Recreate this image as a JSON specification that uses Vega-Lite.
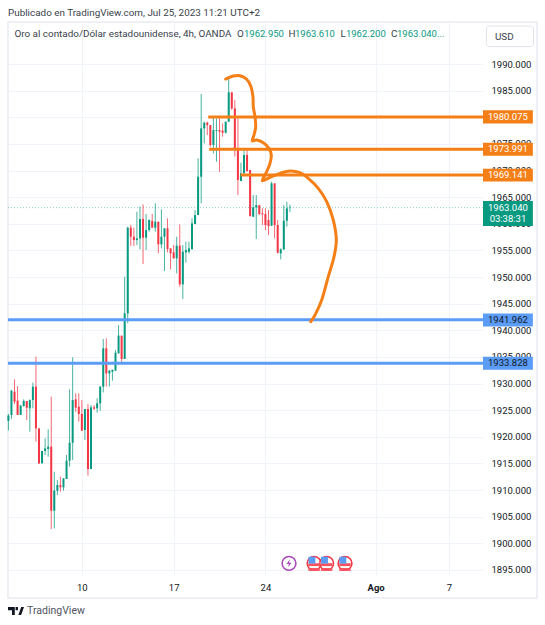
{"$schema":"https://vega.github.io/schema/vega-lite/v6.json","width":475,"height":553,"autosize":{"type":"none"},"padding":{"left":8,"top":22,"right":62,"bottom":50},"background":"#ffffff","view":{"stroke":null},
"config":{"font":"Roboto","text":{"font":"Roboto"}},
"datasets":{
"candles":[{"i":0,"o":1923.0,"h":1924.3,"l":1921.2,"c":1924.0},{"i":1,"o":1924.1,"h":1928.79,"l":1923.35,"c":1928.67},{"i":2,"o":1928.48,"h":1930.79,"l":1926.16,"c":1926.6},{"i":3,"o":1926.79,"h":1929.54,"l":1924.1,"c":1924.1},{"i":4,"o":1924.1,"h":1925.97,"l":1924.1,"c":1925.85},{"i":5,"o":1925.79,"h":1927.04,"l":1925.66,"c":1926.73},{"i":6,"o":1926.73,"h":1926.73,"l":1923.16,"c":1925.47},{"i":7,"o":1925.35,"h":1927.04,"l":1920.97,"c":1926.91},{"i":8,"o":1926.91,"h":1930.17,"l":1925.35,"c":1929.42},{"i":9,"o":1929.42,"h":1935.05,"l":1919.09,"c":1921.59},{"i":10,"o":1921.59,"h":1921.59,"l":1914.9,"c":1915.02},{"i":11,"o":1915.02,"h":1917.34,"l":1915.02,"c":1917.34},{"i":12,"o":1917.34,"h":1919.72,"l":1916.59,"c":1917.84},{"i":13,"o":1917.71,"h":1921.41,"l":1916.27,"c":1918.15},{"i":14,"o":1918.15,"h":1927.54,"l":1902.69,"c":1906.13},{"i":15,"o":1906.13,"h":1913.46,"l":1902.82,"c":1909.89},{"i":16,"o":1909.89,"h":1911.89,"l":1909.08,"c":1910.95},{"i":17,"o":1910.95,"h":1912.52,"l":1909.7,"c":1910.52},{"i":18,"o":1910.52,"h":1912.21,"l":1909.89,"c":1912.21},{"i":19,"o":1912.08,"h":1916.59,"l":1912.08,"c":1915.52},{"i":20,"o":1915.52,"h":1928.92,"l":1914.4,"c":1918.9},{"i":21,"o":1918.9,"h":1934.93,"l":1915.65,"c":1926.91},{"i":22,"o":1927.04,"h":1928.17,"l":1924.72,"c":1925.47},{"i":23,"o":1925.66,"h":1928.17,"l":1922.85,"c":1924.29},{"i":24,"o":1924.29,"h":1926.91,"l":1921.16,"c":1921.16},{"i":25,"o":1921.28,"h":1925.22,"l":1919.4,"c":1925.22},{"i":26,"o":1925.22,"h":1926.16,"l":1912.71,"c":1913.96},{"i":27,"o":1913.96,"h":1925.97,"l":1913.96,"c":1925.54},{"i":28,"o":1925.54,"h":1925.97,"l":1925.04,"c":1925.29},{"i":29,"o":1925.35,"h":1927.23,"l":1924.54,"c":1926.29},{"i":30,"o":1926.29,"h":1929.54,"l":1924.91,"c":1929.42},{"i":31,"o":1929.42,"h":1938.36,"l":1928.35,"c":1936.62},{"i":32,"o":1936.62,"h":1938.49,"l":1929.42,"c":1931.92},{"i":33,"o":1931.92,"h":1932.55,"l":1929.42,"c":1932.42},{"i":34,"o":1932.23,"h":1932.67,"l":1930.54,"c":1932.55},{"i":35,"o":1932.42,"h":1936.3,"l":1932.42,"c":1935.8},{"i":36,"o":1935.67,"h":1940.99,"l":1935.67,"c":1939.0},{"i":37,"o":1938.99,"h":1938.99,"l":1933.79,"c":1934.61},{"i":38,"o":1934.61,"h":1950.07,"l":1934.61,"c":1943.18},{"i":39,"o":1943.18,"h":1959.46,"l":1941.3,"c":1959.27},{"i":40,"o":1959.27,"h":1959.77,"l":1955.83,"c":1957.58},{"i":41,"o":1957.58,"h":1959.27,"l":1955.83,"c":1956.95},{"i":42,"o":1956.95,"h":1962.27,"l":1956.01,"c":1957.26},{"i":43,"o":1957.26,"h":1963.21,"l":1955.2,"c":1960.89},{"i":44,"o":1960.89,"h":1963.65,"l":1952.45,"c":1957.39},{"i":45,"o":1957.39,"h":1961.83,"l":1955.07,"c":1958.83},{"i":46,"o":1958.83,"h":1960.83,"l":1958.52,"c":1960.71},{"i":47,"o":1960.52,"h":1961.83,"l":1959.27,"c":1959.27},{"i":48,"o":1959.27,"h":1963.84,"l":1958.52,"c":1960.39},{"i":49,"o":1960.39,"h":1960.39,"l":1954.45,"c":1956.14},{"i":50,"o":1956.14,"h":1962.71,"l":1955.39,"c":1957.58},{"i":51,"o":1957.58,"h":1959.14,"l":1951.13,"c":1959.14},{"i":52,"o":1959.14,"h":1961.02,"l":1954.64,"c":1955.26},{"i":53,"o":1955.39,"h":1955.39,"l":1951.44,"c":1954.45},{"i":54,"o":1954.64,"h":1956.01,"l":1953.51,"c":1953.51},{"i":55,"o":1953.51,"h":1957.58,"l":1950.69,"c":1955.89},{"i":56,"o":1955.89,"h":1959.89,"l":1948.19,"c":1948.63},{"i":57,"o":1948.63,"h":1956.01,"l":1945.87,"c":1954.76},{"i":58,"o":1954.64,"h":1956.64,"l":1952.7,"c":1955.07},{"i":59,"o":1954.76,"h":1956.64,"l":1954.45,"c":1955.39},{"i":60,"o":1955.26,"h":1961.02,"l":1955.07,"c":1960.08},{"i":61,"o":1959.95,"h":1962.58,"l":1959.95,"c":1961.64},{"i":62,"o":1961.64,"h":1972.28,"l":1961.64,"c":1968.84},{"i":63,"o":1968.84,"h":1984.36,"l":1963.83,"c":1977.92},{"i":64,"o":1977.92,"h":1979.17,"l":1975.1,"c":1978.98},{"i":65,"o":1978.98,"h":1979.17,"l":1976.66,"c":1978.54},{"i":66,"o":1978.54,"h":1978.54,"l":1974.47,"c":1974.79},{"i":67,"o":1974.79,"h":1980.11,"l":1973.22,"c":1977.6},{"i":68,"o":1977.42,"h":1979.8,"l":1971.66,"c":1977.6},{"i":69,"o":1977.6,"h":1979.8,"l":1969.78,"c":1977.29},{"i":70,"o":1977.48,"h":1978.86,"l":1976.35,"c":1977.1},{"i":71,"o":1977.1,"h":1979.17,"l":1976.98,"c":1979.17},{"i":72,"o":1979.17,"h":1987.62,"l":1979.17,"c":1984.68},{"i":73,"o":1984.68,"h":1984.68,"l":1981.36,"c":1981.67},{"i":74,"o":1981.67,"h":1983.24,"l":1972.6,"c":1973.97},{"i":75,"o":1973.97,"h":1979.79,"l":1965.4,"c":1968.22},{"i":76,"o":1968.03,"h":1971.47,"l":1968.03,"c":1969.47},{"i":77,"o":1969.47,"h":1973.85,"l":1969.47,"c":1972.91},{"i":78,"o":1972.91,"h":1973.85,"l":1969.78,"c":1969.91},{"i":79,"o":1970.09,"h":1970.09,"l":1961.33,"c":1961.46},{"i":80,"o":1961.33,"h":1965.4,"l":1961.33,"c":1963.08},{"i":81,"o":1963.08,"h":1965.4,"l":1957.14,"c":1963.52},{"i":82,"o":1963.52,"h":1963.52,"l":1961.64,"c":1961.83},{"i":83,"o":1961.96,"h":1962.9,"l":1959.77,"c":1961.77},{"i":84,"o":1961.83,"h":1962.9,"l":1958.83,"c":1959.77},{"i":85,"o":1960.7,"h":1962.58,"l":1957.89,"c":1959.58},{"i":86,"o":1959.64,"h":1967.9,"l":1959.64,"c":1967.59},{"i":87,"o":1967.59,"h":1967.59,"l":1957.26,"c":1959.77},{"i":88,"o":1959.77,"h":1960.7,"l":1954.45,"c":1954.57},{"i":89,"o":1954.45,"h":1955.39,"l":1953.32,"c":1955.2},{"i":90,"o":1955.2,"h":1963.52,"l":1955.07,"c":1960.58},{"i":91,"o":1960.58,"h":1964.15,"l":1959.45,"c":1962.89},{"i":92,"o":1962.95,"h":1963.61,"l":1962.2,"c":1963.04}],
"curve":[{"n":1,"i":71.0,"p":1987.18},{"n":2,"i":73.5,"p":1987.75},{"n":3,"i":75.69,"p":1987.8},{"n":4,"i":77.88,"p":1987.13},{"n":5,"i":79.28,"p":1985.74},{"n":6,"i":79.93,"p":1983.86},{"n":7,"i":80.03,"p":1981.98},{"n":8,"i":80.59,"p":1980.11},{"n":9,"i":80.82,"p":1978.23},{"n":10,"i":80.26,"p":1976.67},{"n":11,"i":79.71,"p":1975.6},{"n":12,"i":81.14,"p":1975.73},{"n":13,"i":83.3,"p":1975.22},{"n":14,"i":85.16,"p":1974.17},{"n":15,"i":85.92,"p":1972.91},{"n":16,"i":85.49,"p":1971.36},{"n":17,"i":84.41,"p":1969.78},{"n":18,"i":82.97,"p":1968.09},{"n":19,"i":85.49,"p":1968.73},{"n":20,"i":88.76,"p":1969.48},{"n":21,"i":92.03,"p":1969.91},{"n":22,"i":95.29,"p":1969.59},{"n":23,"i":98.0,"p":1968.54},{"n":24,"i":101.27,"p":1966.66},{"n":25,"i":104.02,"p":1964.15},{"n":26,"i":106.18,"p":1960.71},{"n":27,"i":107.16,"p":1956.95},{"n":28,"i":106.41,"p":1953.82},{"n":29,"i":104.54,"p":1950.07},{"n":30,"i":102.39,"p":1945.69},{"n":31,"i":100.2,"p":1942.87},{"n":32,"i":98.79,"p":1941.62}],
"orange":[{"p":1980.075,"a":65.3,"b":155.1,"label":"1980.075"},{"p":1973.991,"a":65.6,"b":155.1,"label":"1973.991"},{"p":1969.141,"a":75.9,"b":155.1,"label":"1969.141"}],
"blue":[{"p":1941.962,"a":-0.13,"b":155.1,"label":"1941.962"},{"p":1933.828,"a":-0.13,"b":155.1,"label":"1933.828"}],
"flags":[{"i":99.9,"p":1896.25},{"i":104.0,"p":1896.25},{"i":110.0,"p":1896.25}],
"flagsCanton":[{"i":99.2,"p":1896.85},{"i":103.3,"p":1896.85},{"i":109.3,"p":1896.85}],
"flagsStripe":[{"i":99.9,"p":1896.0},{"i":104.0,"p":1896.0},{"i":110.0,"p":1896.0},{"i":99.9,"p":1895.1},{"i":104.0,"p":1895.1},{"i":110.0,"p":1895.1}]
},
"layer":[
{"data":{"values":[{"x1":-0.13,"x2":172.75,"y1":1889.74,"y2":1997.89}]},"mark":{"type":"rect","fill":null,"stroke":"#e9ecf2","strokeWidth":1.5},"encoding":{"x":{"field":"x1","type":"quantitative","scale":{"domain":[-0.13,155.1],"nice":false,"zero":false},"title":null,"axis":{"values":[24,54,84,120,144],"labelExpr":"datum.value==24?'10':datum.value==54?'17':datum.value==84?'24':datum.value==120?'Ago':'7'","labelFontSize":9.5,"labelColor":"#131722","labelPadding":7,"labelFontWeight":{"condition":{"test":"datum.value==120","value":"bold"},"value":"normal"},"domain":false,"ticks":false,"grid":true,"gridColor":"#f0f3fa","labelOverlap":false,"labelBound":false,"labelFlush":false,"title":null}},"x2":{"field":"x2"},"y":{"field":"y1","type":"quantitative","scale":{"domain":[1894.06,1997.89],"nice":false,"zero":false},"title":null,"axis":{"orient":"right","values":[1895,1900,1905,1910,1915,1920,1925,1930,1935,1940,1945,1950,1955,1960,1965,1970,1975,1980,1985,1990],"tickCount":40,"format":".3f","labelFontSize":9.5,"labelColor":"#131722","labelPadding":8,"domain":false,"ticks":false,"grid":true,"gridColor":"#f0f3fa","labelOverlap":false,"labelBound":false,"labelFlush":false,"title":null}},"y2":{"field":"y2"}}},
{"data":{"values":[{"p":1963.04,"a":-0.13,"b":155.1}]},"mark":{"type":"rule","color":"#089981","opacity":0.45,"strokeWidth":1,"strokeDash":[1,2]},"encoding":{"x":{"field":"a","type":"quantitative"},"x2":{"field":"b"},"y":{"field":"p","type":"quantitative"}}},
{"data":{"name":"candles"},"mark":{"type":"rule","strokeWidth":1,"opacity":0.75},"encoding":{"x":{"field":"i","type":"quantitative"},"y":{"field":"l","type":"quantitative"},"y2":{"field":"h"},"color":{"condition":{"test":"datum.c>=datum.o","value":"#089981"},"value":"#f23645"}}},
{"data":{"name":"candles"},"mark":{"type":"rule","strokeWidth":2},"encoding":{"x":{"field":"i","type":"quantitative"},"y":{"field":"o","type":"quantitative"},"y2":{"field":"c"},"color":{"condition":{"test":"datum.c>=datum.o","value":"#089981"},"value":"#f23645"}}},
{"data":{"name":"blue"},"mark":{"type":"rule","color":"#5b9cf6","strokeWidth":3},"encoding":{"x":{"field":"a","type":"quantitative"},"x2":{"field":"b"},"y":{"field":"p","type":"quantitative"}}},
{"data":{"name":"orange"},"mark":{"type":"rule","color":"#f57f17","strokeWidth":3},"encoding":{"x":{"field":"a","type":"quantitative"},"x2":{"field":"b"},"y":{"field":"p","type":"quantitative"}}},
{"data":{"name":"curve"},"mark":{"type":"line","color":"#f57f17","strokeWidth":3,"interpolate":"cardinal","strokeCap":"round","strokeJoin":"round"},"encoding":{"x":{"field":"i","type":"quantitative"},"y":{"field":"p","type":"quantitative"},"order":{"field":"n","type":"quantitative"}}},
{"data":{"values":[{"a":155.1,"b":171.4,"y1":1981.3,"y2":1978.85},{"a":155.1,"b":171.4,"y1":1975.21,"y2":1972.77},{"a":155.1,"b":171.4,"y1":1970.36,"y2":1967.92}]},"mark":{"type":"rect","fill":"#f57f17"},"encoding":{"x":{"field":"a","type":"quantitative"},"x2":{"field":"b"},"y":{"field":"y1","type":"quantitative"},"y2":{"field":"y2"}}},
{"data":{"values":[{"a":155.1,"b":171.4,"y1":1943.18,"y2":1940.74},{"a":155.1,"b":171.4,"y1":1935.05,"y2":1932.61}]},"mark":{"type":"rect","fill":"#5b9cf6"},"encoding":{"x":{"field":"a","type":"quantitative"},"x2":{"field":"b"},"y":{"field":"y1","type":"quantitative"},"y2":{"field":"y2"}}},
{"data":{"values":[{"a":155.1,"b":171.4,"y1":1964.28,"y2":1959.58}]},"mark":{"type":"rect","fill":"#089981"},"encoding":{"x":{"field":"a","type":"quantitative"},"x2":{"field":"b"},"y":{"field":"y1","type":"quantitative"},"y2":{"field":"y2"}}},
{"data":{"values":[{"i":163.25,"p":1980.075,"label":"1980.075"},{"i":163.25,"p":1973.991,"label":"1973.991"},{"i":163.25,"p":1969.141,"label":"1969.141"},{"i":163.25,"p":1962.96,"label":"1963.040"},{"i":163.25,"p":1960.97,"label":"03:38:31"}]},"mark":{"type":"text","color":"#ffffff","fontSize":9.5,"align":"center","baseline":"middle"},"encoding":{"x":{"field":"i","type":"quantitative"},"y":{"field":"p","type":"quantitative"},"text":{"field":"label"}}},
{"data":{"values":[{"i":163.25,"p":1941.962,"label":"1941.962"},{"i":163.25,"p":1933.828,"label":"1933.828"}]},"mark":{"type":"text","color":"#131722","fontSize":9.5,"align":"center","baseline":"middle"},"encoding":{"x":{"field":"i","type":"quantitative"},"y":{"field":"p","type":"quantitative"},"text":{"field":"label"}}},
{"data":{"values":[{"i":-0.13,"p":1999.58,"label":"Publicado en TradingView.com, Jul 25, 2023 11:21 UTC+2"},{"i":1.99,"p":1995.63,"label":"Oro al contado/Dólar estadounidense, 4h, OANDA"},{"i":74.7,"p":1995.63,"label":"O"},{"i":91.53,"p":1995.63,"label":"H"},{"i":108.56,"p":1995.63,"label":"L"},{"i":125.0,"p":1995.63,"label":"C"},{"i":159.0,"p":1995.16,"label":"USD"}]},"mark":{"type":"text","color":"#3a3f4b","fontSize":9.9,"align":"left","baseline":"middle"},"encoding":{"x":{"field":"i","type":"quantitative"},"y":{"field":"p","type":"quantitative"},"text":{"field":"label"}}},
{"data":{"values":[{"i":77.0,"p":1995.63,"label":"1962.950"},{"i":93.66,"p":1995.63,"label":"1963.610"},{"i":110.3,"p":1995.63,"label":"1962.200"},{"i":127.0,"p":1995.63,"label":"1963.040..."}]},"mark":{"type":"text","color":"#089981","fontSize":9.5,"align":"left","baseline":"middle"},"encoding":{"x":{"field":"i","type":"quantitative"},"y":{"field":"p","type":"quantitative"},"text":{"field":"label"}}},
{"data":{"values":[{"a":156.2,"b":171.6,"y1":1997.13,"y2":1993.27}]},"mark":{"type":"rect","fill":null,"stroke":"#e0e3eb","strokeWidth":1,"cornerRadius":3},"encoding":{"x":{"field":"a","type":"quantitative"},"x2":{"field":"b"},"y":{"field":"y1","type":"quantitative"},"y2":{"field":"y2"}}},
{"data":{"values":[{"i":91.7,"p":1896.25}]},"mark":{"type":"point","shape":"circle","size":190,"filled":false,"stroke":"#ab47bc","strokeWidth":1.6,"opacity":1},"encoding":{"x":{"field":"i","type":"quantitative"},"y":{"field":"p","type":"quantitative"}}},
{"data":{"values":[{"i":91.7,"p":1896.25}]},"mark":{"type":"point","shape":"M0.2,-1L-0.6,0.15H-0.05L-0.2,1L0.6,-0.15H0.05Z","size":64,"filled":true,"fill":"#ab47bc","opacity":1},"encoding":{"x":{"field":"i","type":"quantitative"},"y":{"field":"p","type":"quantitative"}}},
{"data":{"name":"flags"},"mark":{"type":"point","shape":"circle","size":190,"filled":true,"fill":"#ffffff","stroke":"#f23645","strokeWidth":1.6,"opacity":1},"encoding":{"x":{"field":"i","type":"quantitative"},"y":{"field":"p","type":"quantitative"}}},
{"data":{"name":"flagsStripe"},"mark":{"type":"point","shape":"M-1,-0.25H1V0.25H-1Z","size":130,"filled":true,"fill":"#f7525f","opacity":1},"encoding":{"x":{"field":"i","type":"quantitative"},"y":{"field":"p","type":"quantitative"}}},
{"data":{"name":"flagsCanton"},"mark":{"type":"point","shape":"square","size":48,"filled":true,"fill":"#5b9cf6","opacity":1},"encoding":{"x":{"field":"i","type":"quantitative"},"y":{"field":"p","type":"quantitative"}}},
{"data":{"values":[{"i":2.48,"p":1887.3}]},"mark":{"type":"point","shape":"M-1,-0.5H-0.15V0.5H-0.5V-0.1H-1ZM-0.05,-0.5H0.25V-0.1H-0.05ZM0.3,0.5L0.65,-0.5H1L0.65,0.5Z","size":256,"filled":true,"fill":"#131722","opacity":1},"encoding":{"x":{"field":"i","type":"quantitative"},"y":{"field":"p","type":"quantitative"}}},
{"data":{"values":[{"i":6.1,"p":1887.3,"label":"TradingView"}]},"mark":{"type":"text","color":"#50535e","fontSize":10.5,"align":"left","baseline":"middle"},"encoding":{"x":{"field":"i","type":"quantitative"},"y":{"field":"p","type":"quantitative"},"text":{"field":"label"}}}
]}
